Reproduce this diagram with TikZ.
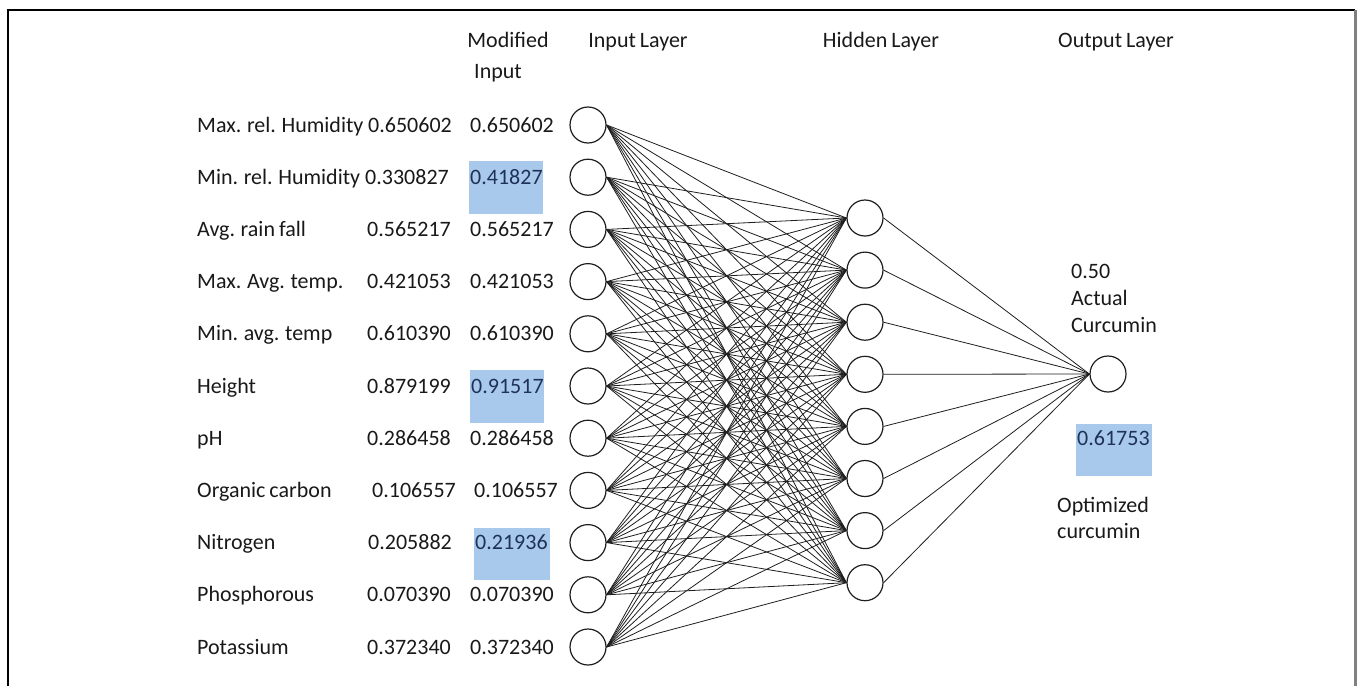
\documentclass[tikz,border=0pt]{standalone}
\usepackage{fontspec}
\setmainfont{Carlito}[WordSpace=0.8]
\definecolor{hl}{RGB}{169,201,236}
\definecolor{ln}{RGB}{30,30,30}
\definecolor{txt}{RGB}{25,25,25}
\definecolor{bluetxt}{RGB}{30,50,85}
\begin{document}
\begin{tikzpicture}[x=1pt,y=-1pt,
  neuron/.style={circle,draw=ln,line width=1.2pt,minimum size=36pt,inner sep=0pt,fill=white},
  lbl/.style={anchor=base west,inner sep=0pt,text=txt,font=\fontsize{22}{26}\selectfont},
  hdr/.style={anchor=base,inner sep=0pt,text=txt,font=\fontsize{22}{26}\selectfont},
  bluelbl/.style={lbl,text=bluetxt},
  hlbox/.style={fill=hl,draw=none},
  edge/.style={draw=ln,line width=0.8pt}]
\useasboundingbox (0,0) rectangle (1357,686);
% frame
\draw[line width=1.2pt] (8,686) -- (8,10) -- (1355,10);
\draw[gray,line width=2.5pt] (1355.5,10) -- (1355.5,686);
% highlight boxes
\fill[hlbox] (469,161) rectangle (543,214);
\fill[hlbox] (470,370) rectangle (544,423);
\fill[hlbox] (474,528) rectangle (550,580);
\fill[hlbox] (1076,424) rectangle (1152,476);
% headers
\node[hdr] (hmod) at (508,47) {Modified};
\node[hdr] (hinp) at (498,78) {Input};
\node[hdr] (hil) at (638,47) {Input Layer};
\node[hdr] (hhl) at (881,47) {Hidden Layer};
\node[hdr] (hol) at (1116,47) {Output Layer};
% neurons
\foreach \i in {1,...,11}
  \node[neuron] (in\i) at (588,{125+(\i-1)*52.2}) {};
\foreach \j in {1,...,8}
  \node[neuron] (h\j) at (865,{218+(\j-1)*52.1}) {};
\node[neuron] (out) at (1108,374) {};
% edges
\foreach \i in {1,...,11}
  \foreach \j in {1,...,8}
    \draw[edge] (in\i.east) -- (h\j.west);
\foreach \j in {1,...,8}
  \draw[edge] (h\j.east) -- (out.west);
% row labels
\foreach \i/\lab/\xa/\va in {1/Max. rel. Humidity/368/0.650602,
  2/Min. rel. Humidity/365/0.330827,
  3/Avg. rain fall/367/0.565217,
  4/Max. Avg. temp./367/0.421053,
  5/Min. avg. temp/367/0.610390,
  6/Height/367/0.879199,
  7/pH/367/0.286458,
  8/Organic carbon/372/0.106557,
  9/Nitrogen/368/0.205882,
  10/Phosphorous/367/0.070390,
  11/Potassium/367/0.372340}{
  \node[lbl] (lab\i) at (197,{132+(\i-1)*52.2}) {\lab};
  \node[lbl] (va\i) at (\xa,{132+(\i-1)*52.2}) {\va};
}
\foreach \i/\xb/\vb in {1/470/0.650602,3/470/0.565217,4/470/0.421053,5/470/0.610390,
  7/470/0.286458,8/474/0.106557,10/470/0.070390,11/470/0.372340}
  \node[lbl] (vb\i) at (\xb,{132+(\i-1)*52.2}) {\vb};
\node[bluelbl] (vb2) at (470,{132+52.2}) {0.41827};
\node[bluelbl] (vb6) at (471,{132+5*52.2}) {0.91517};
\node[bluelbl] (vb9) at (475,{132+8*52.2}) {0.21936};
% output texts
\node[lbl] (act1) at (1071,278) {0.50};
\node[lbl] (act2) at (1071,305) {Actual};
\node[lbl] (act3) at (1071,332) {Curcumin};
\node[bluelbl] (opt) at (1077,445) {0.61753};
\node[lbl] (opt1) at (1057,512) {Optimized};
\node[lbl] (opt2) at (1057,538) {curcumin};
\end{tikzpicture}
\end{document}
